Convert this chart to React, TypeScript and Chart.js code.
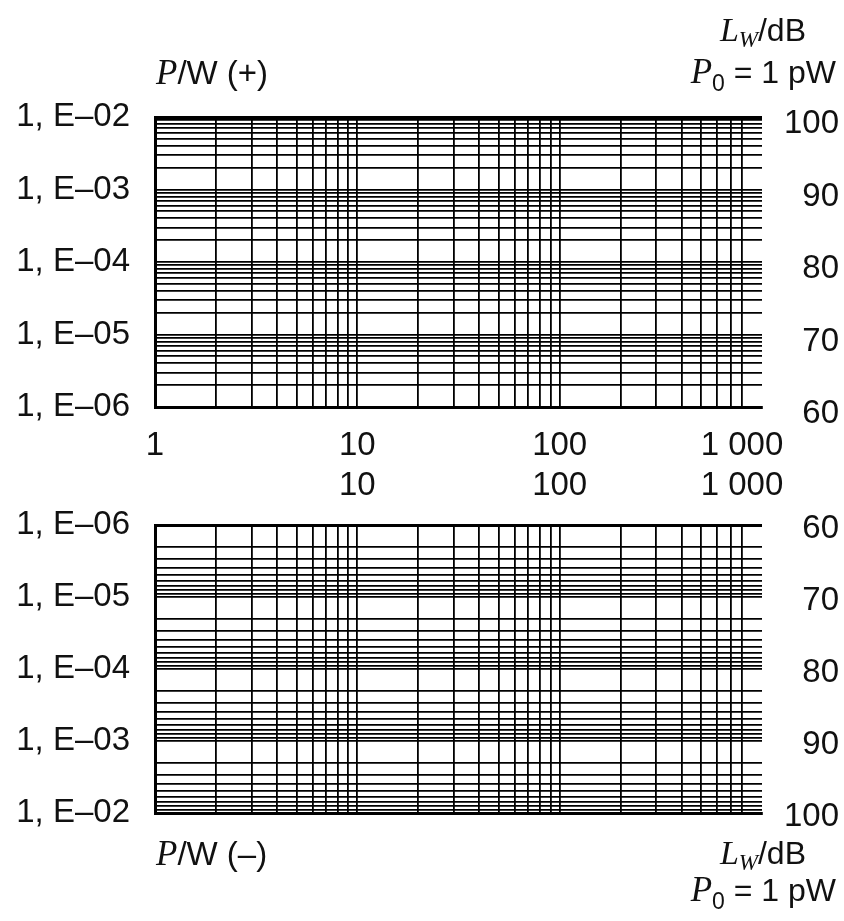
import React, { useEffect, useRef } from 'react';
import { Chart, registerables } from 'chart.js';

Chart.register(...registerables);

// ---- data / tick values ----
const xMin = 1;
const xMax = 1000;
const xGridValues = [
  1, 2, 3, 4, 5, 6, 7, 8, 9,
  10, 20, 30, 40, 50, 60, 70, 80, 90,
  100, 200, 300, 400, 500, 600, 700, 800,
];
const xLabelValuesTop = [1, 10, 100, 1000];
const xLabelsTop = ['1', '10', '100', '1 000'];
const xLabelValuesBottom = [10, 100, 1000];
const xLabelsBottom = ['10', '100', '1 000'];

const pDecades = [1e-6, 1e-5, 1e-4, 1e-3, 1e-2];
const pLabels = ['1, E–06', '1, E–05', '1, E–04', '1, E–03', '1, E–02'];
const pMultipliers = [1, 2, 3, 4, 5, 6, 7, 8, 9];

const lwTicks = [60, 70, 80, 90, 100];
const lwMin = 60;
const lwMax = 100;

const SANS = '"Liberation Sans", Arial, Helvetica, sans-serif';
const SERIF = '"Liberation Serif", "Times New Roman", serif';

const W = 844;

function sameLog(a: number, b: number) {
  return Math.abs(Math.log10(a) - Math.log10(b)) < 1e-6;
}

function pGridValues() {
  const out: number[] = [];
  for (let i = 0; i < pDecades.length - 1; i++) {
    for (const m of pMultipliers) out.push(pDecades[i] * m);
  }
  out.push(pDecades[pDecades.length - 1]);
  return out;
}

type Part = { text: string; font: string; dy?: number };

function drawRich(ctx: CanvasRenderingContext2D, parts: Part[], x: number, y: number, align: 'left' | 'right') {
  const widths = parts.map((p) => {
    ctx.font = p.font;
    return ctx.measureText(p.text).width;
  });
  const total = widths.reduce((a, b) => a + b, 0);
  let cx = align === 'right' ? x - total : x;
  ctx.textAlign = 'left';
  ctx.textBaseline = 'alphabetic';
  parts.forEach((p, i) => {
    ctx.font = p.font;
    ctx.fillText(p.text, cx, y + (p.dy || 0));
    cx += widths[i];
  });
}

type PanelSpec = {
  reverse: boolean;
  canvasH: number;
  padTop: number;
  xHeight: number;
  sign: string;
  xLabelValues: number[];
  xLabels: string[];
  xLabelY: number;
  pTitleY: number;
  lwTitleY: number;
  p0TitleY: number;
  leftLabelOffset: number;
  rightLabelOffset: number;
};

const topSpec: PanelSpec = {
  reverse: false,
  canvasH: 460,
  padTop: 117,
  xHeight: 53,
  sign: '+',
  xLabelValues: xLabelValuesTop,
  xLabels: xLabelsTop,
  xLabelY: 446,
  pTitleY: 84,
  lwTitleY: 41,
  p0TitleY: 83,
  leftLabelOffset: 0,
  rightLabelOffset: 7,
};

const bottomSpec: PanelSpec = {
  reverse: true,
  canvasH: 461,
  padTop: 65,
  xHeight: 108,
  sign: '–',
  xLabelValues: xLabelValuesBottom,
  xLabels: xLabelsBottom,
  xLabelY: 26,
  pTitleY: 405,
  lwTitleY: 404,
  p0TitleY: 441,
  leftLabelOffset: 0,
  rightLabelOffset: 4,
};

function makeConfig(spec: PanelSpec): any {
  const gridW = 1.8;
  const textPlugin = {
    id: 'textPlugin',
    afterDraw(chart: any) {
      const ctx: CanvasRenderingContext2D = chart.ctx;
      const xs = chart.scales.x;
      ctx.save();
      ctx.fillStyle = '#111';
      ctx.font = `33px ${SANS}`;
      ctx.textAlign = 'center';
      ctx.textBaseline = 'middle';
      spec.xLabelValues.forEach((v, i) => {
        let px = xs.getPixelForValue(v);
        if (v === xMax) px -= 20;
        ctx.fillText(spec.xLabels[i], px, spec.xLabelY);
      });
      // P/W title
      drawRich(
        ctx,
        [
          { text: 'P', font: `italic 35px ${SERIF}` },
          { text: `/W (${spec.sign})`, font: `33px ${SANS}` },
        ],
        156,
        spec.pTitleY,
        'left'
      );
      // L_W / dB
      drawRich(
        ctx,
        [
          { text: 'L', font: `italic 34px ${SERIF}` },
          { text: 'W', font: `italic 23px ${SERIF}`, dy: 6 },
          { text: '/dB', font: `32px ${SANS}` },
        ],
        806,
        spec.lwTitleY,
        'right'
      );
      // P0 = 1 pW
      drawRich(
        ctx,
        [
          { text: 'P', font: `italic 35px ${SERIF}` },
          { text: '0', font: `23px ${SANS}`, dy: 8 },
          { text: ' = 1 pW', font: `32px ${SANS}` },
        ],
        836,
        spec.p0TitleY,
        'right'
      );
      ctx.restore();
    },
  };

  const pMin = pDecades[0];
  const pMax = pDecades[pDecades.length - 1];

  return {
    type: 'scatter',
    data: { datasets: [{ data: [], showLine: false }] },
    options: {
      responsive: false,
      animation: false,
      devicePixelRatio: 1,
      layout: { padding: { top: spec.padTop, left: 0, right: 5, bottom: 0 } },
      plugins: { legend: { display: false }, tooltip: { enabled: false }, title: { display: false } },
      scales: {
        x: {
          type: 'logarithmic',
          position: 'bottom',
          min: xMin,
          max: xMax,
          afterBuildTicks: (s: any) => {
            s.ticks = xGridValues.map((v) => ({ value: v }));
          },
          afterFit: (s: any) => {
            s.height = spec.xHeight;
          },
          ticks: { display: false, autoSkip: false },
          grid: { color: '#000', lineWidth: gridW, drawTicks: false },
          border: { display: true, color: '#000', width: 3 },
        },
        y: {
          type: 'logarithmic',
          position: 'left',
          min: pMin,
          max: pMax,
          reverse: spec.reverse,
          afterBuildTicks: (s: any) => {
            s.ticks = pGridValues().map((v) => ({ value: v }));
          },
          afterFit: (s: any) => {
            s.width = 155;
          },
          ticks: {
            autoSkip: false,
            padding: 25,
            labelOffset: spec.leftLabelOffset,
            color: '#111',
            font: { family: SANS, size: 33 },
            callback: (v: number) => {
              const i = pDecades.findIndex((d) => sameLog(d, v));
              return i >= 0 ? pLabels[i] : '';
            },
          },
          grid: {
            color: '#000',
            drawTicks: false,
            lineWidth: (c: any) => {
              const v = c.tick ? c.tick.value : 0;
              return v && (sameLog(v, pMin) || sameLog(v, pMax)) ? 3 : gridW;
            },
          },
          border: { display: true, color: '#000', width: 3 },
        },
        y2: {
          type: 'linear',
          position: 'right',
          min: lwMin,
          max: lwMax,
          reverse: spec.reverse,
          afterBuildTicks: (s: any) => {
            s.ticks = lwTicks.map((v) => ({ value: v }));
          },
          afterFit: (s: any) => {
            s.width = 77;
          },
          ticks: {
            autoSkip: false,
            crossAlign: 'far',
            padding: 0,
            labelOffset: spec.rightLabelOffset,
            color: '#111',
            font: { family: SANS, size: 33 },
          },
          grid: { display: false, drawTicks: false },
          border: { display: false },
        },
      },
    },
    plugins: [textPlugin],
  };
}

function Panel({ spec, top }: { spec: PanelSpec; top: number }) {
  const ref = useRef<HTMLCanvasElement>(null);
  useEffect(() => {
    const chart = new Chart(ref.current as HTMLCanvasElement, makeConfig(spec));
    return () => chart.destroy();
  }, [spec]);
  return (
    <canvas
      ref={ref}
      width={W}
      height={spec.canvasH}
      style={{ position: 'absolute', left: 0, top, width: W, height: spec.canvasH, display: 'block' }}
    />
  );
}

export default function App() {
  return (
    <div style={{ position: 'absolute', left: 0, top: 0, width: W, height: 921, background: '#fff' }}>
      <Panel spec={topSpec} top={0} />
      <Panel spec={bottomSpec} top={460} />
    </div>
  );
}
